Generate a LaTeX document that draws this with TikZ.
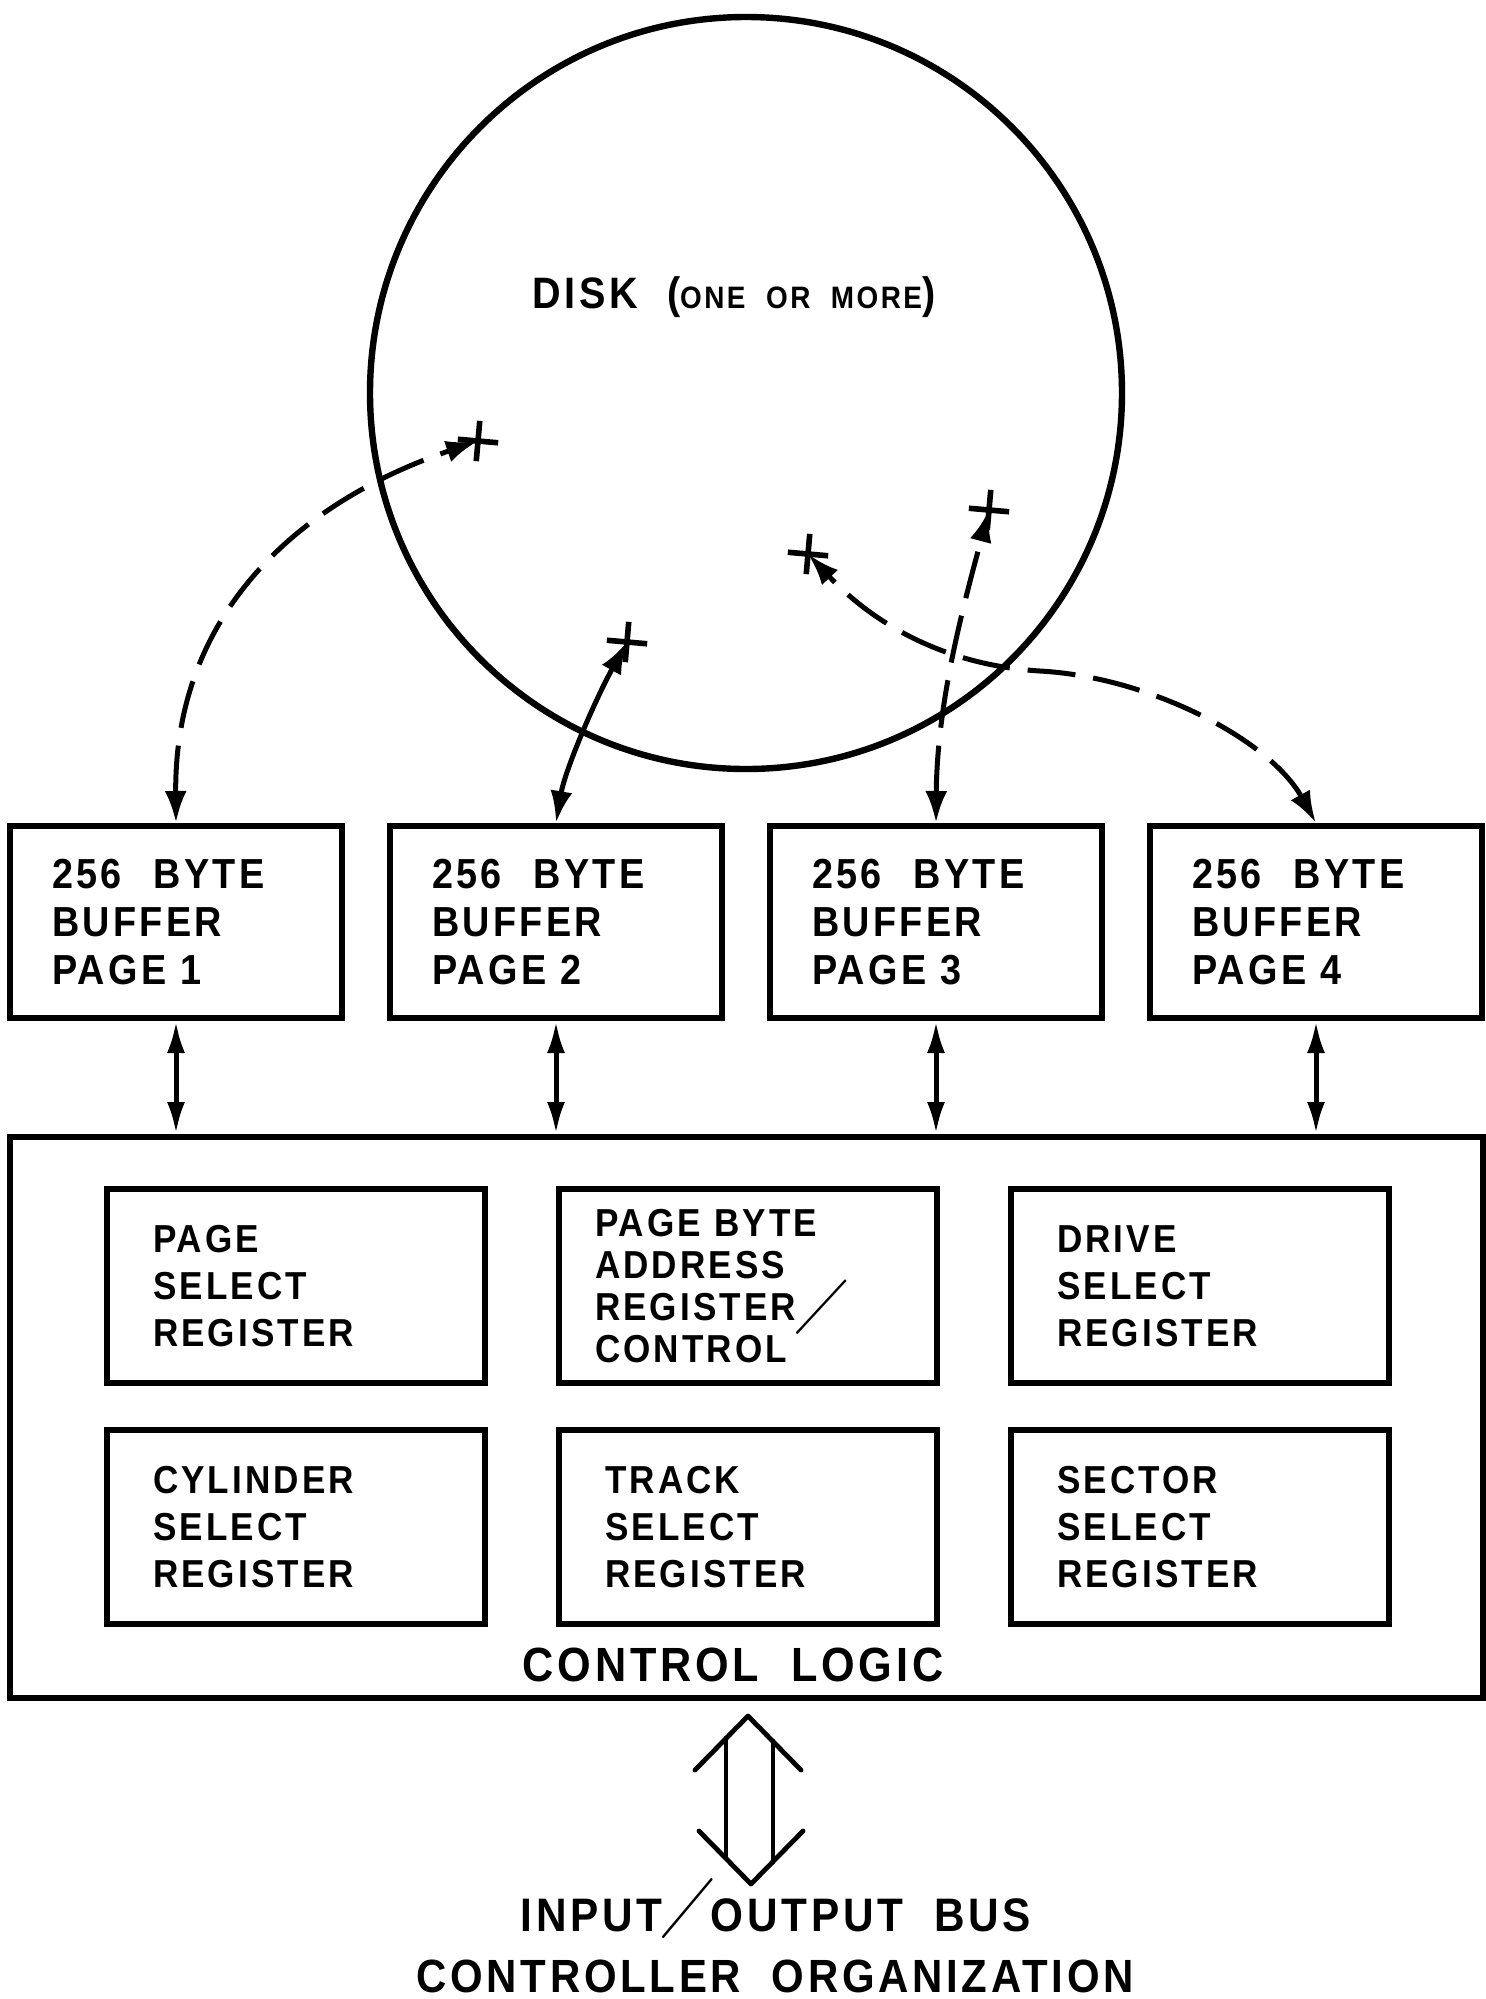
\documentclass[tikz,border=0pt]{standalone}
\usepackage{fontspec}
\setmainfont{Liberation Sans}[FakeStretch=0.9, LetterSpace=8, WordSpace=2]
\usepackage{amssymb}
\usepackage{graphicx}
\usepackage{tikz}
\usetikzlibrary{arrows.meta, positioning, calc, shapes.misc}

\newcommand{\tallslash}[4]{\makebox[#1][l]{\smash{\raisebox{#2}{\scalebox{#3}[#4]{$\diagup$}}}}}

\begin{document}
\begin{tikzpicture}[x=0.5pt, y=-0.5pt, >={Latex[length=16pt,width=11pt]}]
      \tikzstyle{buf} = [rectangle, draw, line width=3pt, minimum height=96pt, inner xsep=21pt, text width=124pt, align=left, font=\bfseries\fontsize{21}{24}\selectfont]
      \tikzstyle{reg} = [rectangle, draw, line width=3pt, minimum height=97pt, inner xsep=23pt, text width=143pt, align=left, font=\bfseries\fontsize{19.5}{23.5}\selectfont]
      \tikzstyle{track} = [cross out, draw, line width=2.8pt, minimum size=11.5pt, inner sep=0pt, rotate=40]
      \tikzstyle{link} = [{Latex[length=16pt,width=9pt]}-{Latex[length=16pt,width=9pt]}, line width=2.5pt]
      \tikzstyle{seek} = [<->, line width=2.5pt]
      \tikzstyle{seekd} = [seek, dash pattern=on 24pt off 9pt]
      \tikzstyle{bus} = [line width=2.4pt, line cap=round, line join=round]
      \tikzstyle{lbl} = [inner sep=0pt, font=\bfseries\fontsize{23.5}{28}\selectfont]

      \useasboundingbox (0,0) rectangle (1486,1999);

      % Disk
      \node (disk) [circle, draw, line width=3.2pt, minimum size=376pt, inner sep=0pt] at (746,393) {};
      \node (disklbl) [lbl, font=\bfseries\fontsize{22}{26}\selectfont] at (734,297) {DISK ({\fontsize{15.5}{18}\selectfont ONE OR MORE})};

      % Track marks
      \node (t1) [track] at (478,441) {};
      \node (t2) [track] at (627,642) {};
      \node (t3) [track] at (989,510) {};
      \node (t4) [track] at (808,554) {};

      % Buffers
      \node (buf1) [buf] at (176,922) {256\hspace{9pt} BYTE\\BUFFER\\PAGE 1};
      \node (buf2) [buf, right=21pt of buf1] {256\hspace{9pt} BYTE\\BUFFER\\PAGE 2};
      \node (buf3) [buf, right=21pt of buf2] {256\hspace{9pt} BYTE\\BUFFER\\PAGE 3};
      \node (buf4) [buf, right=21pt of buf3] {256\hspace{9pt} BYTE\\BUFFER\\PAGE 4};

      % Control logic
      \node (logic) [rectangle, draw, line width=3pt, minimum width=736.5pt, minimum height=280.5pt] at (746.5,1417.5) {};
      \node (ctl) [lbl, font=\bfseries\fontsize{24}{28}\selectfont] at (733,1665) {CONTROL LOGIC};

      % Registers
      \node (pagesel) [reg] at (296,1286) {PAGE\\SELECT\\REGISTER};
      \node (pagebyte) [reg, right=34pt of pagesel, inner xsep=18pt, text width=153pt, font=\bfseries\fontsize{19.5}{21}\selectfont] {PAGE BYTE\\ADDRESS\\REGISTER\tallslash{0pt}{-1pt}{1.5}{1.57}\\CONTROL};
      \node (drivesel) [reg, right=34pt of pagebyte] {DRIVE\\SELECT\\REGISTER};
      \node (cylsel) [reg, below=20.5pt of pagesel] {CYLINDER\\SELECT\\REGISTER};
      \node (tracksel) [reg, below=20.5pt of pagebyte, inner xsep=23pt, text width=143pt, font=\bfseries\fontsize{19.5}{23.5}\selectfont] {TRACK\\SELECT\\REGISTER};
      \node (sectsel) [reg, below=20.5pt of drivesel] {SECTOR\\SELECT\\REGISTER};

      % I/O bus
      \coordinate (iotop) at ($(logic.south)+(1.5,15)$);
      \coordinate (iobot) at ($(logic.south)+(4.5,183)$);
      \node (io) [lbl] at (776,1915) {INPUT\tallslash{24pt}{2.7pt}{1.25}{1.44}OUTPUT BUS};
      \node (title) [lbl, font=\bfseries\fontsize{23.3}{28}\selectfont] at (775,1976) {CONTROLLER ORGANIZATION};

      % Connections
      \draw[link] (buf1.south) -- (buf1.south |- logic.north);
      \draw[link] (buf2.south) -- (buf2.south |- logic.north);
      \draw[link] (buf3.south) -- (buf3.south |- logic.north);
      \draw[link] (buf4.south) -- (buf4.south |- logic.north);

      % Disk transfers
      \draw[seekd] (buf1.north) .. controls (174,620) and (290,505) .. (t1.center);
      \draw[seek] (buf2.north) .. controls (565,770) and (595,700) .. (t2.center);
      \draw[seekd] (buf3.north) .. controls (937,700) and (965,600) .. (t3.center);
      \draw[seekd] (buf4.north) .. controls (1270,740) and (1150,677) .. (1040,671) .. controls (940,665) and (870,620) .. (t4.center);

      % Bus arrow
      \draw[bus] ($(iotop)+(-53,54)$) -- (iotop) -- ($(iotop)+(53,54)$);
      \draw[bus] ($(iobot)+(-52,-53)$) -- (iobot) -- ($(iobot)+(52,-53)$);
      \draw[bus] ($(iotop)+(-22,22)$) -- ($(iobot)+(-25,-26)$);
      \draw[bus] ($(iotop)+(25,25)$) -- ($(iobot)+(22,-22)$);
    \end{tikzpicture}
\end{document}
